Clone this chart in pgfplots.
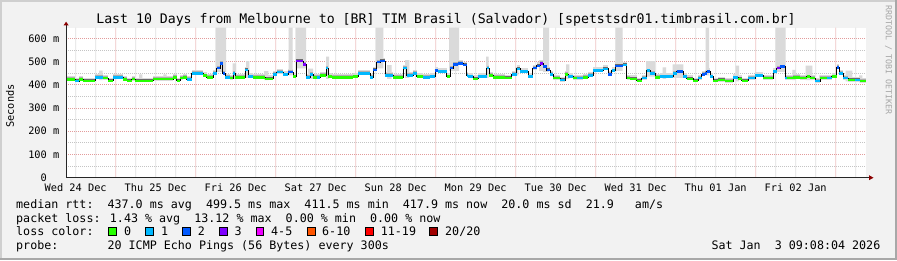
\documentclass[border=0pt]{standalone}
\usepackage{pgfplots}
\pgfplotsset{compat=1.18}
\usepackage{pgfplotstable}
\usepackage{fontspec}
\setmainfont{DejaVu Sans Mono}
\definecolor{bg}{HTML}{F2F2F2}
\definecolor{frameL}{HTML}{CFCFCF}
\definecolor{frameD}{HTML}{A8A8A8}
\definecolor{lc0}{HTML}{26FF00}
\definecolor{lc1}{HTML}{00B8FF}
\definecolor{lc2}{HTML}{0059FF}
\definecolor{lc3}{HTML}{7E00FF}
\definecolor{lc45}{HTML}{EE00FF}
\definecolor{lc610}{HTML}{FF5500}
\definecolor{lc1119}{HTML}{FF0000}
\definecolor{lc20}{HTML}{A10000}
\definecolor{mgrid}{HTML}{E39B9B}
\definecolor{sgrid}{HTML}{C4C4C4}
\definecolor{mgridV}{HTML}{EFC4C4}
\definecolor{sgridV}{HTML}{E0E0E0}
\definecolor{smokeL}{HTML}{DADADA}
\definecolor{smokeM}{HTML}{ADADAD}
\definecolor{smokeD}{HTML}{6A6A6A}
\definecolor{arrowc}{HTML}{8B0000}
\newcommand\tickfont{\fontsize{10.3}{12}\selectfont}
\newcommand\legfont{\fontsize{11.68}{14}\selectfont}
\pgfdeclarelayer{bglayer}
\pgfplotsset{
  layers/mylayers/.define layer set={
    bglayer,axis background,axis grid,axis ticks,axis lines,axis tick labels,pre main,main,axis descriptions,axis foreground
  }{},
}
% outlier smoke rectangle: from hour #1 to hour #2, rtt #3 to #4 (ms)
\newcommand\spike[4]{\addplot[fill=smokeL, draw=none, forget plot] coordinates {(#1,#3) (#1,#4) (#2,#4) (#2,#3) (#1,#3)};}
% vertical grid line as a thin band from hour #1 to #2, colour #3
\newcommand\vg[3]{\addplot[fill=#3, draw=none, forget plot] coordinates {(#1,0) (#1,645.6) (#2,645.6) (#2,0) (#1,0)};}

% median rtt (ms), hours since Wed 24 Dec 00:00, w = step width, c = loss colour class
\pgfplotstableread{
x w y c
9.13 2.66 423 0
11.79 1.29 416 1
13.08 1.20 423 0
14.28 3.51 417 0
17.79 2.49 432 1
20.28 1.50 428 0
21.78 1.50 417 0
23.28 3.00 432 1
26.28 1.02 423 0
27.30 1.50 417 0
28.80 0.99 424 0
29.79 5.49 417 0
35.28 6.00 424 0
41.28 1.02 432 0
42.30 0.99 417 0
43.29 0.99 428 0
44.28 1.02 432 0
45.30 1.50 423 1
46.80 3.48 449 1
50.28 1.02 439 0
51.30 1.98 432 0
53.28 1.02 449 1
54.30 0.99 471 2
55.29 0.81 492 2
56.10 0.69 449 2
56.79 1.50 432 1
58.29 0.99 428 0
59.28 0.51 449 1
59.79 3.00 432 0
62.79 0.99 464 1
63.78 1.50 435 1
65.28 3.51 432 0
68.79 2.49 426 0
71.28 1.02 445 1
72.30 1.98 454 1
74.28 1.50 444 1
75.78 1.50 454 2
77.28 0.81 435 0
78.09 2.19 502 3
80.28 0.81 488 3
81.09 1.20 432 1
82.29 0.99 445 1
83.28 1.02 432 0
84.30 0.99 432 1
85.29 1.80 440 0
87.09 0.69 471 1
87.78 1.02 435 0
88.80 6.48 432 0
95.28 1.50 435 0
96.78 3.51 449 1
100.29 0.99 432 1
101.28 1.02 464 2
102.30 0.99 497 2
103.29 1.50 502 2
104.79 2.49 440 1
107.28 3.00 432 0
110.28 1.02 471 1
111.30 1.98 440 1
113.28 1.02 449 1
114.30 1.98 435 0
116.28 2.01 432 1
118.29 1.50 435 1
119.79 0.99 461 2
120.78 2.52 457 1
123.30 0.99 435 0
124.29 0.99 471 2
125.28 1.50 488 2
126.78 1.50 492 2
128.28 1.02 485 2
129.30 0.48 440 1
129.78 1.50 435 1
131.28 1.50 426 0
132.78 2.52 435 1
135.30 0.78 471 1
136.08 1.20 440 0
137.28 3.51 432 0
140.79 2.01 430 0
142.80 1.50 445 1
144.30 0.99 469 1
145.29 2.49 457 1
147.78 1.32 435 1
149.10 1.20 471 2
150.30 0.99 482 2
151.29 0.99 492 3
152.28 1.02 478 2
153.30 0.99 464 2
154.29 0.99 445 1
155.28 2.01 428 0
157.29 1.50 420 1
158.79 0.99 445 0
159.78 1.50 435 1
161.28 1.02 428 0
162.30 1.98 428 1
164.28 1.50 432 0
165.78 1.50 440 1
167.28 3.00 461 1
170.28 1.50 469 1
171.78 1.02 445 2
172.80 0.99 461 1
173.79 2.49 482 2
176.28 1.02 485 1
177.30 0.99 428 0
178.29 2.01 426 0
180.30 1.50 417 0
181.80 1.50 428 1
183.30 0.99 461 1
184.29 1.50 449 1
185.79 1.50 432 0
187.29 3.99 435 1
191.28 1.02 449 1
192.30 1.98 457 2
194.28 1.02 435 1
195.30 1.98 426 0
197.28 1.50 417 0
198.78 1.02 428 1
199.80 0.99 445 2
200.79 0.51 449 2
201.30 0.99 457 2
202.29 0.99 435 1
203.28 1.50 417 0
204.78 2.01 420 0
206.79 2.49 415 0
209.28 1.50 431 1
210.78 1.02 426 0
211.80 1.98 417 0
213.78 2.01 428 1
215.79 2.49 439 1
218.28 3.00 428 0
221.28 1.02 457 1
222.30 0.99 471 3
223.29 1.50 478 2
224.79 0.51 428 1
225.30 1.98 428 0
227.28 2.01 432 0
229.29 2.01 428 0
231.30 0.99 435 0
232.29 1.50 428 0
233.79 1.50 415 1
235.29 2.01 428 0
237.30 1.50 428 1
238.80 1.50 435 0
240.30 0.78 475 2
241.08 1.20 449 1
242.28 1.50 428 1
243.78 2.01 420 0
245.79 1.50 420 1
247.29 1.84 415 0
249.13 0 415 0
}\med

\begin{document}
\begin{tikzpicture}
\begin{axis}[
  set layers=mylayers,
  at={(66.1pt,82.3pt)}, anchor=south west,
  scale only axis, width=800pt, height=150pt,
  xmin=9.13, xmax=249.13, ymin=0, ymax=645.6,
  axis line style={draw=none},
  major tick length=0pt, minor tick length=0pt,
  axis background/.style={fill=white},
  xtick={12,36,...,228},
  xticklabels={Wed 24 Dec,Thu 25 Dec,Fri 26 Dec,Sat 27 Dec,Sun 28 Dec,Mon 29 Dec,Tue 30 Dec,Wed 31 Dec,Thu 01 Jan,Fri 02 Jan},
  ytick={0,100,...,600},
  yticklabels={0\phantom{\ m},100 m,200 m,300 m,400 m,500 m,600 m},
  minor ytick={50,150,...,550},
  ymajorgrids=true, yminorgrids=true,
  major grid style={mgrid, dash pattern=on 1pt off 1pt, line width=0.8pt},
  minor grid style={sgrid, dash pattern=on 1pt off 1pt, line width=0.8pt},
  ticklabel style={font=\tickfont},
  xticklabel style={anchor=north, inner sep=0pt, yshift=-5.6pt},
  yticklabel style={anchor=east, inner sep=0pt, xshift=-6.6pt},
  colormap={loss}{rgb255=(38,255,0) rgb255=(0,184,255) rgb255=(0,89,255) rgb255=(126,0,255)},
  point meta min=0, point meta max=3,
]
% vertical grid: 6-hourly (grey) and midnight (red)
\vg{11.88}{12.12}{sgridV} \vg{17.88}{18.12}{sgridV} \vg{29.88}{30.12}{sgridV}
\vg{35.88}{36.12}{sgridV} \vg{41.88}{42.12}{sgridV} \vg{53.88}{54.12}{sgridV}
\vg{59.88}{60.12}{sgridV} \vg{65.88}{66.12}{sgridV} \vg{77.88}{78.12}{sgridV}
\vg{83.88}{84.12}{sgridV} \vg{89.88}{90.12}{sgridV} \vg{101.88}{102.12}{sgridV}
\vg{107.88}{108.12}{sgridV} \vg{113.88}{114.12}{sgridV} \vg{125.88}{126.12}{sgridV}
\vg{131.88}{132.12}{sgridV} \vg{137.88}{138.12}{sgridV} \vg{149.88}{150.12}{sgridV}
\vg{155.88}{156.12}{sgridV} \vg{161.88}{162.12}{sgridV} \vg{173.88}{174.12}{sgridV}
\vg{179.88}{180.12}{sgridV} \vg{185.88}{186.12}{sgridV} \vg{197.88}{198.12}{sgridV}
\vg{203.88}{204.12}{sgridV} \vg{209.88}{210.12}{sgridV} \vg{221.88}{222.12}{sgridV}
\vg{227.88}{228.12}{sgridV} \vg{233.88}{234.12}{sgridV} \vg{245.88}{246.12}{sgridV}
\vg{23.88}{24.12}{mgridV} \vg{47.88}{48.12}{mgridV} \vg{71.88}{72.12}{mgridV}
\vg{95.88}{96.12}{mgridV} \vg{119.88}{120.12}{mgridV} \vg{143.88}{144.12}{mgridV}
\vg{167.88}{168.12}{mgridV} \vg{191.88}{192.12}{mgridV} \vg{215.88}{216.12}{mgridV}
\vg{239.88}{240.12}{mgridV}

% outlier smoke
\spike{19.0}{20.1}{420}{461}
\spike{31.0}{32.0}{415}{445}
\spike{38.3}{39.3}{420}{445}
\spike{54.1}{57.1}{455}{645.6}
\spike{59.1}{60.1}{425}{492}
\spike{63.1}{64.1}{430}{502}
\spike{68.5}{69.8}{420}{459}
\spike{75.9}{77.1}{440}{645.6}
\spike{78.1}{81.1}{470}{645.6}
\spike{81.7}{83.2}{425}{469}
\spike{87.1}{88.0}{425}{521}
\spike{102.1}{104.3}{470}{645.6}
\spike{105.4}{106.8}{425}{485}
\spike{110.8}{112.1}{430}{506}
\spike{124.0}{127.0}{460}{645.6}
\spike{135.1}{135.9}{430}{521}
\spike{143.8}{144.8}{440}{475}
\spike{151.0}{152.2}{460}{506}
\spike{152.2}{154.0}{455}{645.6}
\spike{159.1}{160.1}{425}{488}
\spike{174.0}{176.1}{460}{645.6}
\spike{183.1}{185.8}{435}{502}
\spike{188.1}{189.1}{425}{475}
\spike{191.1}{194.3}{430}{488}
\spike{201.0}{202.0}{440}{645.6}
\spike{210.0}{211.0}{415}{482}
\spike{222.0}{225.0}{455}{645.6}
\spike{227.0}{228.0}{420}{464}
\spike{231.0}{233.0}{420}{482}
\spike{235.0}{236.0}{420}{440}
\spike{243.0}{245.0}{415}{461}
\spike{247.0}{248.0}{410}{440}

% smoke bands around the median (band thickness in pt = ms * 150/645.6)
\addplot[smokeL, quiver={u=\thisrow{w}, v=0, every arrow/.append style={line width=4.65pt}}, line width=4.65pt] table[x=x, y expr=\thisrow{y}+4]{\med};
\addplot[smokeM, quiver={u=\thisrow{w}, v=0, every arrow/.append style={line width=2.56pt}}, line width=2.56pt] table[x=x, y expr=\thisrow{y}+3]{\med};
\addplot[smokeD, quiver={u=\thisrow{w}, v=0, every arrow/.append style={line width=1.4pt}}, line width=1.4pt] table[x=x, y expr=\thisrow{y}+4]{\med};

\addplot[black, line width=0.7pt, const plot] table[x=x,y=y]{\med};
\addplot[quiver={u=\thisrow{w}, v=0, colored=mapped color, every arrow/.append style={line width=2.4pt}}, point meta=\thisrow{c}, line width=2.4pt] table[x=x,y=y]{\med};
\end{axis}

\begin{scope}[x=1pt,y=1pt]
\begin{pgfonlayer}{bglayer}
\fill[bg] (0,0) rectangle (897,260);
\fill[frameL] (0,258) rectangle (897,260);
\fill[frameL] (0,0) rectangle (2,260);
\fill[frameD] (0,0) rectangle (897,2.5);
\fill[frameD] (894.5,0) rectangle (897,260);
\end{pgfonlayer}

% axes with arrows
\draw[line width=1pt, black!85] (66.1,82.3) -- (66.1,234.7);
\fill[arrowc] (63.6,234.7) -- (68.6,234.7) -- (66.1,238.3) -- cycle;
\draw[line width=1pt, black!85] (66.1,82.3) -- (869,82.3);
\fill[arrowc] (869,79.8) -- (869,84.8) -- (873.5,82.3) -- cycle;

% titles
\node[anchor=base, inner sep=0pt, font=\fontsize{13.2}{15}\selectfont] at (446,236) {Last 10 Days from Melbourne to [BR] TIM Brasil (Salvador) [spetstsdr01.timbrasil.com.br]};
\node[rotate=90, inner sep=0pt, font=\tickfont] at (10,154) {Seconds};
\node[rotate=-90, inner sep=0pt, font=\fontsize{8.3}{10}\selectfont, text=black!35] at (888.5,200) {RRDTOOL / TOBI OETIKER};

% legend text
\begin{scope}[every node/.style={anchor=base west, inner sep=0pt, font=\legfont}]
\node at (16,51.5) {median rtt:~~437.0 ms avg~~499.5 ms max~~411.5 ms min~~417.9 ms now~~20.0 ms sd~~21.9~~~am/s};
\node at (16,38) {packet loss: 1.43 \% avg~~13.12 \% max~~0.00 \% min~~0.00 \% now};
\node at (16,24.3) {loss color:};
\node at (16,10.5) {probe:~~~~~~~20 ICMP Echo Pings (56 Bytes) every 300s};
\node[anchor=base east] at (880.5,10.5) {Sat Jan~~3 09:08:04 2026};
\node at (124,24.3) {0};
\node at (161,24.3) {1};
\node at (197.7,24.3) {2};
\node at (234.3,24.3) {3};
\node at (271,24.3) {4-5};
\node at (322,24.3) {6-10};
\node at (380.7,24.3) {11-19};
\node at (445,24.3) {20/20};
\end{scope}
\foreach \xx/\cc in {108.3/lc0,145.7/lc1,182.7/lc2,219.3/lc3,256/lc45,307.3/lc610,365.7/lc1119,429.7/lc20}{
  \filldraw[fill=\cc, draw=black, line width=0.8pt] (\xx,24.6) rectangle ++(7.6,7.6);
}
\pgfresetboundingbox
\useasboundingbox (0,0) rectangle (897,260);
\end{scope}
\end{tikzpicture}
\end{document}
